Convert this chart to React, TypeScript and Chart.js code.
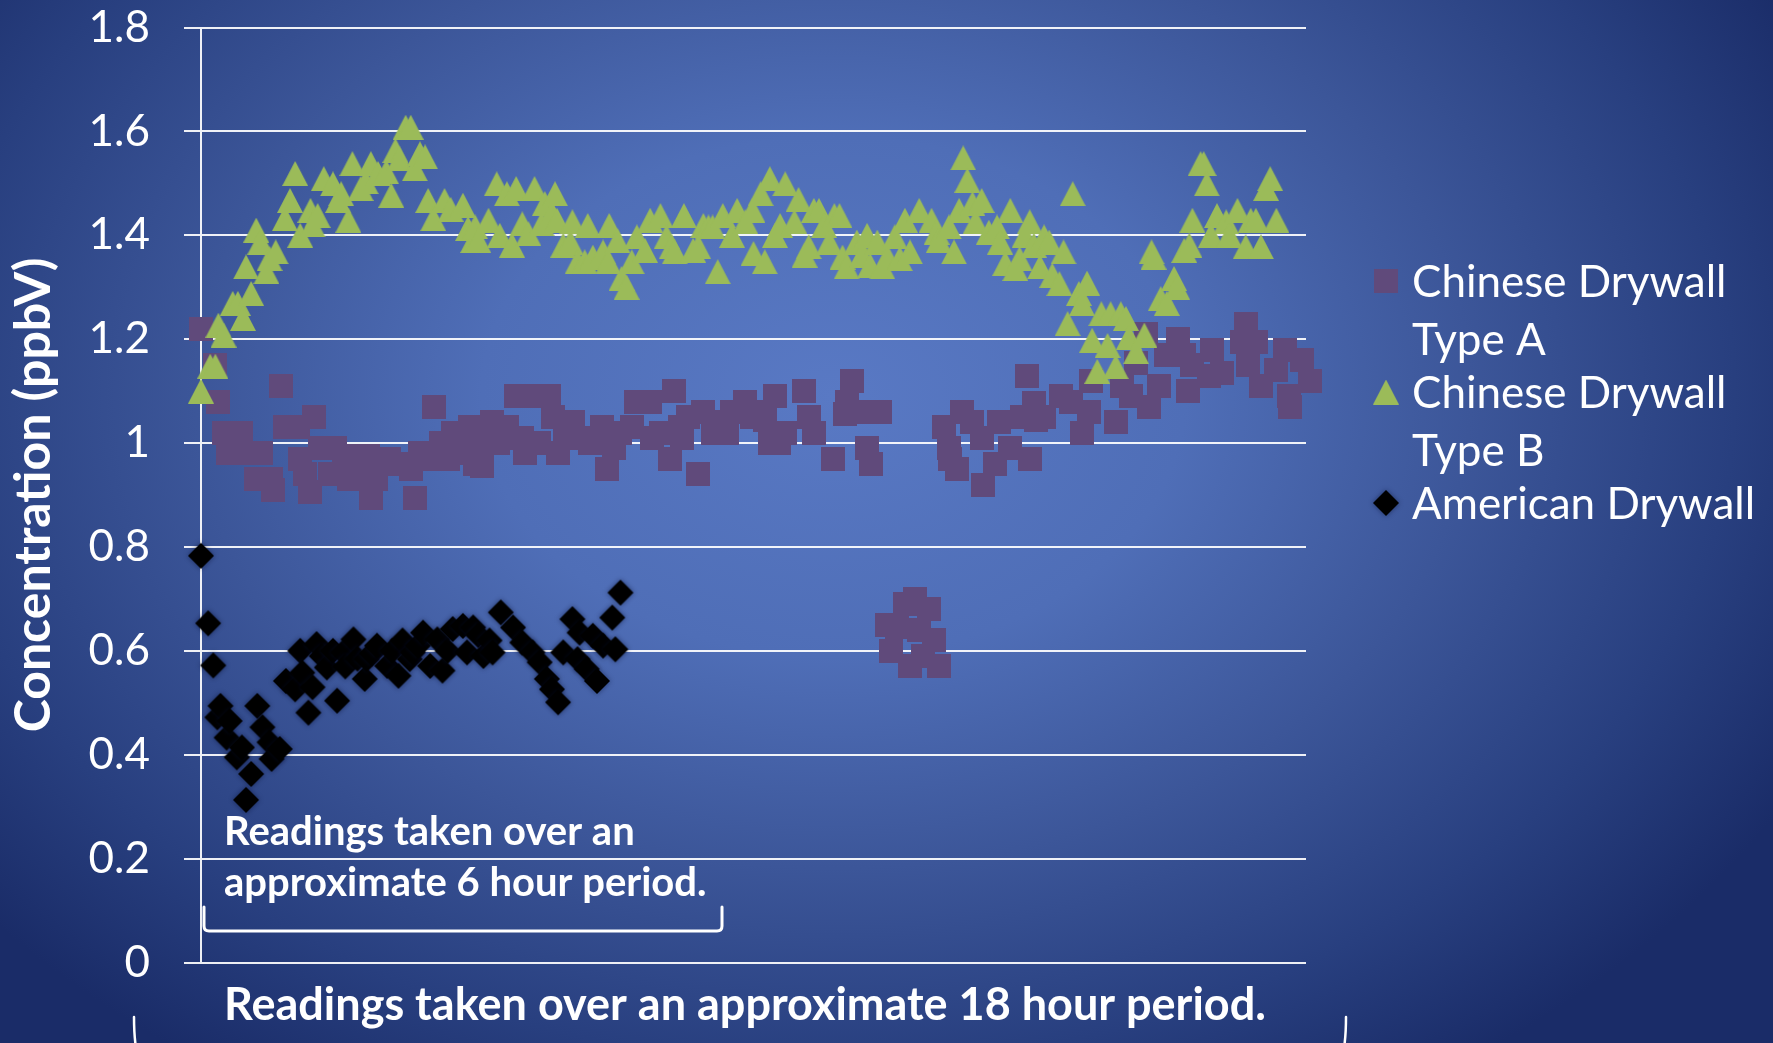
import React, { useEffect, useRef } from "react";
import { Chart, registerables } from "chart.js";

Chart.register(...registerables);

// ---- Text ----
const Y_TITLE = "Concentration (ppbV)";
const SERIES_LABELS: string[][] = [
  ["Chinese Drywall", "Type A"],
  ["Chinese Drywall", "Type B"],
  ["American Drywall"],
];
const NOTE_SHORT = ["Readings taken over an", "approximate 6 hour period."];
const NOTE_LONG = "Readings taken over an approximate 18 hour period.";

// ---- Axes ----
const Y_MIN = 0;
const Y_MAX = 1.8;
const Y_STEP = 0.2;
const X_MIN = 0; // minutes from start of sampling
const X_MAX = 1080; // 18 hours

// ---- Chinese Drywall Type A (minutes, ppbV) ----
const typeAMinutes = [
  0, 14, 17, 22, 26, 39, 46, 54, 59, 68, 70, 78, 82, 95, 97, 102, 107, 110, 116, 126,
  131, 140, 145, 151, 158, 163, 166, 171, 176, 184, 193, 205, 209, 214, 225, 228, 235, 241, 246, 252,
  258, 263, 268, 275, 276, 284, 290, 299, 308, 314, 317, 322, 330, 340, 344, 349, 356, 364, 368, 380,
  392, 397, 404, 410, 421, 425, 439, 441, 450, 458, 462, 468, 470, 476, 486, 491, 500, 508, 514, 519,
  532, 539, 541, 551, 556, 561, 565, 571, 589, 594, 599, 618, 629, 631, 636, 646, 651, 655, 664, 670,
  674, 680, 688, 693, 698, 702, 706, 712, 716, 721, 726, 731, 732, 739, 744, 754, 763, 764, 776, 780,
  791, 802, 807, 810, 814, 816, 824, 841, 850, 861, 868, 870, 894, 900, 909, 914, 924, 927, 936, 943,
  955, 961, 965, 969, 985, 988, 998, 1017, 1021, 1023, 1031, 1036, 1051, 1059, 1063, 1064, 1076, 1084, 1086,
];
const typeAValues = [
  1.22, 1.15, 1.08, 1.02, 0.98, 1.02, 0.98, 0.93, 0.98, 0.93, 0.91, 1.11, 1.03, 1.03, 0.97, 0.94, 0.905, 1.05, 0.99, 0.94,
  0.99, 0.96, 0.93, 0.975, 0.94, 0.975, 0.895, 0.93, 0.96, 0.97, 0.96, 0.95, 0.895, 0.98, 0.97, 1.07, 1.0, 0.97, 1.02, 0.99,
  0.98, 1.03, 0.96, 0.955, 1.0, 1.04, 1.0, 1.03, 1.09, 1.01, 0.98, 1.09, 1.0, 1.09, 1.05, 0.98, 1.02, 1.04, 1.01, 1.0,
  1.03, 0.95, 0.99, 1.02, 1.03, 1.08, 1.08, 1.01, 1.02, 0.97, 1.1, 1.03, 1.01, 1.05, 0.94, 1.06, 1.02, 1.04, 1.02, 1.06,
  1.08, 1.05, 1.06, 1.045, 1.0, 1.09, 1.0, 1.02, 1.1, 1.05, 1.02, 0.97, 1.055, 1.08, 1.12, 1.06, 0.99, 0.96, 1.06, 0.65,
  0.6, 0.645, 0.69, 0.57, 0.7, 0.64, 0.59, 0.68, 0.62, 0.57, 1.03, 0.99, 0.97, 0.95, 1.06, 1.04, 1.01, 0.92, 0.96, 1.04,
  0.99, 1.05, 1.13, 0.97, 1.078, 1.045, 1.05, 1.09, 1.08, 1.02, 1.06, 1.12, 1.04, 1.11, 1.09, 1.155, 1.21, 1.07, 1.11, 1.17,
  1.2, 1.17, 1.1, 1.15, 1.13, 1.18, 1.135, 1.195, 1.23, 1.15, 1.195, 1.11, 1.14, 1.18, 1.09, 1.07, 1.16, 1.12, 1.09,
];

// ---- Chinese Drywall Type B (minutes, ppbV) ----
const typeBMinutes = [
  0, 9, 14, 17, 22, 31, 36, 41, 44, 49, 54, 58, 64, 67, 73, 82, 87, 92, 97, 107,
  109, 114, 120, 129, 134, 137, 144, 148, 156, 161, 166, 173, 181, 186, 190, 194, 200, 205, 209, 214,
  219, 222, 227, 238, 244, 256, 261, 266, 268, 271, 281, 289, 292, 299, 304, 308, 314, 320, 326, 333,
  336, 343, 346, 348, 354, 361, 363, 368, 375, 378, 383, 393, 398, 399, 407, 411, 416, 421, 426, 434,
  439, 449, 455, 460, 463, 472, 481, 486, 491, 496, 500, 505, 510, 519, 524, 532, 539, 540, 547, 551,
  556, 561, 566, 571, 580, 584, 590, 594, 599, 604, 609, 614, 619, 624, 627, 631, 641, 646, 651, 654,
  661, 666, 671, 678, 683, 688, 693, 702, 714, 719, 721, 731, 736, 741, 745, 749, 754, 757, 763, 770,
  778, 781, 786, 791, 796, 800, 805, 810, 814, 820, 824, 829, 832, 839, 843, 847, 852, 858, 861, 866,
  871, 876, 880, 886, 889, 894, 899, 904, 907, 914, 922, 929, 931, 938, 944, 951, 954, 961, 966, 969,
  977, 980, 983, 987, 993, 1002, 1005, 1013, 1021, 1026, 1031, 1036, 1041, 1045, 1051,
];
const typeBValues = [
  1.1, 1.148, 1.148, 1.227, 1.208, 1.269, 1.269, 1.24, 1.339, 1.288, 1.41, 1.387, 1.33, 1.355, 1.368, 1.432, 1.467, 1.519, 1.4, 1.448,
  1.42, 1.438, 1.509, 1.499, 1.467, 1.48, 1.429, 1.538, 1.49, 1.503, 1.538, 1.519, 1.522, 1.477, 1.563, 1.547, 1.608, 1.608, 1.528, 1.557,
  1.551, 1.467, 1.432, 1.467, 1.45, 1.458, 1.413, 1.39, 1.416, 1.39, 1.429, 1.499, 1.4, 1.48, 1.381, 1.49, 1.422, 1.403, 1.49, 1.422,
  1.461, 1.442, 1.48, 1.429, 1.381, 1.387, 1.426, 1.349, 1.349, 1.419, 1.358, 1.368, 1.349, 1.419, 1.39, 1.317, 1.3, 1.349, 1.397, 1.371,
  1.429, 1.438, 1.397, 1.378, 1.368, 1.438, 1.371, 1.378, 1.419, 1.416, 1.416, 1.33, 1.438, 1.4, 1.448, 1.426, 1.448, 1.365, 1.48, 1.349,
  1.509, 1.4, 1.419, 1.499, 1.426, 1.469, 1.362, 1.378, 1.448, 1.448, 1.419, 1.387, 1.438, 1.438, 1.358, 1.339, 1.387, 1.362, 1.4, 1.342,
  1.387, 1.339, 1.358, 1.397, 1.355, 1.429, 1.368, 1.448, 1.429, 1.406, 1.39, 1.416, 1.368, 1.448, 1.549, 1.506, 1.461, 1.426, 1.467, 1.406,
  1.416, 1.387, 1.346, 1.448, 1.336, 1.355, 1.4, 1.426, 1.381, 1.339, 1.397, 1.387, 1.323, 1.307, 1.368, 1.23, 1.48, 1.288, 1.269, 1.308,
  1.198, 1.138, 1.249, 1.188, 1.249, 1.147, 1.249, 1.24, 1.204, 1.176, 1.208, 1.368, 1.358, 1.278, 1.269, 1.317, 1.3, 1.371, 1.381, 1.429,
  1.538, 1.538, 1.499, 1.4, 1.438, 1.426, 1.4, 1.448, 1.378, 1.429, 1.429, 1.378, 1.49, 1.509, 1.429,
];

// ---- American Drywall (minutes, ppbV) ----
const americanMinutes = [
  0, 7, 12, 16, 19, 25, 28, 35, 40, 44, 49, 55, 60, 67, 69, 77, 83, 92, 97, 99,
  105, 109, 113, 118, 123, 129, 133, 139, 141, 149, 153, 160, 162, 167, 172, 182, 187, 193, 197, 204,
  207, 212, 217, 224, 231, 236, 241, 246, 256, 260, 266, 271, 276, 282, 285, 293, 305, 314, 324, 331,
  338, 343, 349, 354, 363, 368, 370, 377, 383, 387, 393, 402, 405, 410,
];
const americanValues = [
  0.783, 0.653, 0.572, 0.472, 0.494, 0.433, 0.465, 0.395, 0.414, 0.313, 0.363, 0.494, 0.453, 0.424, 0.392, 0.411, 0.542, 0.526, 0.6, 0.558,
  0.481, 0.53, 0.613, 0.59, 0.568, 0.6, 0.504, 0.597, 0.57, 0.622, 0.585, 0.546, 0.584, 0.595, 0.61, 0.571, 0.6, 0.552, 0.62, 0.584,
  0.597, 0.61, 0.635, 0.571, 0.622, 0.562, 0.6, 0.642, 0.648, 0.597, 0.645, 0.63, 0.59, 0.62, 0.597, 0.674, 0.645, 0.616, 0.597, 0.578,
  0.546, 0.526, 0.501, 0.597, 0.661, 0.584, 0.635, 0.565, 0.629, 0.542, 0.61, 0.664, 0.603, 0.712,
];

// ---- Styling ----
const PURPLE = "#604A7B";
const GREEN = "#9BBB59";
const BLACK = "#000000";
const FONT = "Lato, 'Open Sans', 'DejaVu Sans', sans-serif";

type MarkerKind = "square" | "triangle" | "diamond";

function makeMarker(kind: MarkerKind, color: string): HTMLCanvasElement {
  const c = document.createElement("canvas");
  const ctx = c.getContext("2d")!;
  if (kind === "square") {
    c.width = 24;
    c.height = 24;
    ctx.fillStyle = color;
    ctx.fillRect(0, 0, 24, 24);
  } else if (kind === "triangle") {
    c.width = 26;
    c.height = 25;
    ctx.fillStyle = color;
    ctx.beginPath();
    ctx.moveTo(13, 0);
    ctx.lineTo(26, 25);
    ctx.lineTo(0, 25);
    ctx.closePath();
    ctx.fill();
  } else {
    // diamond with a soft dark rim
    c.width = 36;
    c.height = 36;
    ctx.shadowColor = "rgba(8,16,50,0.55)";
    ctx.shadowBlur = 5;
    ctx.fillStyle = color;
    ctx.beginPath();
    ctx.moveTo(18, 5);
    ctx.lineTo(31, 18);
    ctx.lineTo(18, 31);
    ctx.lineTo(5, 18);
    ctx.closePath();
    ctx.fill();
  }
  return c;
}

function toPoints(xs: number[], ys: number[]) {
  return xs.map((x, i) => ({ x, y: ys[i] }));
}

export default function App() {
  const canvasRef = useRef<HTMLCanvasElement | null>(null);

  useEffect(() => {
    const canvas = canvasRef.current;
    if (!canvas) return;

    const squareImg = makeMarker("square", PURPLE);
    const triangleImg = makeMarker("triangle", GREEN);
    const diamondImg = makeMarker("diamond", BLACK);
    const legendMarkers = [squareImg, triangleImg, diamondImg];

    // Legend, period notes and brackets drawn over the plot
    const overlay = {
      id: "overlay",
      afterDraw(chart: any) {
        const ctx: CanvasRenderingContext2D = chart.ctx;
        const area = chart.chartArea;
        ctx.save();
        ctx.fillStyle = "#ffffff";
        ctx.strokeStyle = "#ffffff";

        // legend
        const legendX = area.right + 80;
        const textX = legendX + 26;
        ctx.font = `44px ${FONT}`;
        ctx.textBaseline = "alphabetic";
        ctx.textAlign = "left";
        let baseline = 297;
        SERIES_LABELS.forEach((lines, i) => {
          const img = legendMarkers[i];
          ctx.drawImage(img, legendX - img.width / 2, baseline - 16 - img.height / 2);
          lines.forEach((line, j) => {
            ctx.fillText(line, textX, baseline + j * 58);
          });
          baseline += 111;
        });

        // short-period note and bracket
        ctx.font = `bold 40px ${FONT}`;
        ctx.fillText(NOTE_SHORT[0], area.left + 23, 845);
        ctx.fillText(NOTE_SHORT[1], area.left + 23, 896);

        ctx.lineWidth = 3;
        ctx.lineCap = "round";
        ctx.beginPath();
        const bl = area.left + 3;
        const br = area.left + 521;
        ctx.moveTo(bl, 907);
        ctx.lineTo(bl, 926);
        ctx.quadraticCurveTo(bl, 931, bl + 5, 931);
        ctx.lineTo(br - 5, 931);
        ctx.quadraticCurveTo(br, 931, br, 926);
        ctx.lineTo(br, 907);
        ctx.stroke();

        // full-period note and bracket ends
        ctx.font = `bold 45px ${FONT}`;
        ctx.fillText(NOTE_LONG, area.left + 23, 1020);
        ctx.lineWidth = 2.5;
        ctx.beginPath();
        ctx.moveTo(134, 1017);
        ctx.quadraticCurveTo(134, 1035, 136, 1048);
        ctx.moveTo(1346, 1017);
        ctx.quadraticCurveTo(1346, 1035, 1344, 1048);
        ctx.stroke();

        ctx.restore();
      },
    };

    const chart = new Chart(canvas, {
      type: "scatter",
      data: {
        datasets: [
          {
            label: SERIES_LABELS[0].join(" "),
            data: toPoints(typeAMinutes, typeAValues),
            pointStyle: squareImg as any,
            pointRadius: 12,
            backgroundColor: PURPLE,
            borderColor: PURPLE,
            order: 3,
            clip: false as any,
          },
          {
            label: SERIES_LABELS[1].join(" "),
            data: toPoints(typeBMinutes, typeBValues),
            pointStyle: triangleImg as any,
            pointRadius: 12,
            backgroundColor: GREEN,
            borderColor: GREEN,
            order: 2,
            clip: false as any,
          },
          {
            label: SERIES_LABELS[2].join(" "),
            data: toPoints(americanMinutes, americanValues),
            pointStyle: diamondImg as any,
            pointRadius: 12,
            backgroundColor: BLACK,
            borderColor: BLACK,
            order: 1,
            clip: false as any,
          },
        ],
      },
      options: {
        responsive: false,
        animation: false,
        devicePixelRatio: 1,
        layout: { padding: { left: 0, right: 467, top: 27.5, bottom: 80.5 } },
        plugins: {
          legend: { display: false },
          tooltip: { enabled: false },
          title: { display: false },
        },
        scales: {
          x: {
            type: "linear",
            min: X_MIN,
            max: X_MAX,
            display: false,
          },
          y: {
            type: "linear",
            min: Y_MIN,
            max: Y_MAX,
            afterFit: (scale: any) => {
              scale.width = 201;
              scale.paddingTop = 0;
              scale.paddingBottom = 0;
            },
            ticks: {
              stepSize: Y_STEP,
              color: "#ffffff",
              padding: 34,
              font: { family: FONT, size: 44 },
              callback: (v: any) => String(Math.round(Number(v) * 10) / 10),
            },
            grid: {
              color: "rgba(255,255,255,0.92)",
              lineWidth: 2,
              tickLength: 17,
              drawTicks: true,
            },
            border: { display: true, color: "rgba(255,255,255,0.92)", width: 2 },
            title: {
              display: true,
              text: Y_TITLE,
              color: "#ffffff",
              font: { family: FONT, size: 50, weight: "bold" },
              padding: { top: 4, bottom: 0 },
            },
          },
        },
      },
      plugins: [overlay],
    });

    if ((document as any).fonts && (document as any).fonts.ready) {
      (document as any).fonts.ready.then(() => chart.draw());
    }

    return () => chart.destroy();
  }, []);

  return (
    <div
      style={{
        position: "fixed",
        left: 0,
        top: 0,
        width: 1773,
        height: 1043,
        overflow: "hidden",
        background:
          "radial-gradient(ellipse 62% 78% at 47% 38%, #5979c4 0%, #4f6eb7 32%, #3c5699 58%, #283f7f 82%, #1a2c68 100%)",
      }}
    >
      <canvas ref={canvasRef} width={1773} height={1043} style={{ display: "block" }} />
    </div>
  );
}
